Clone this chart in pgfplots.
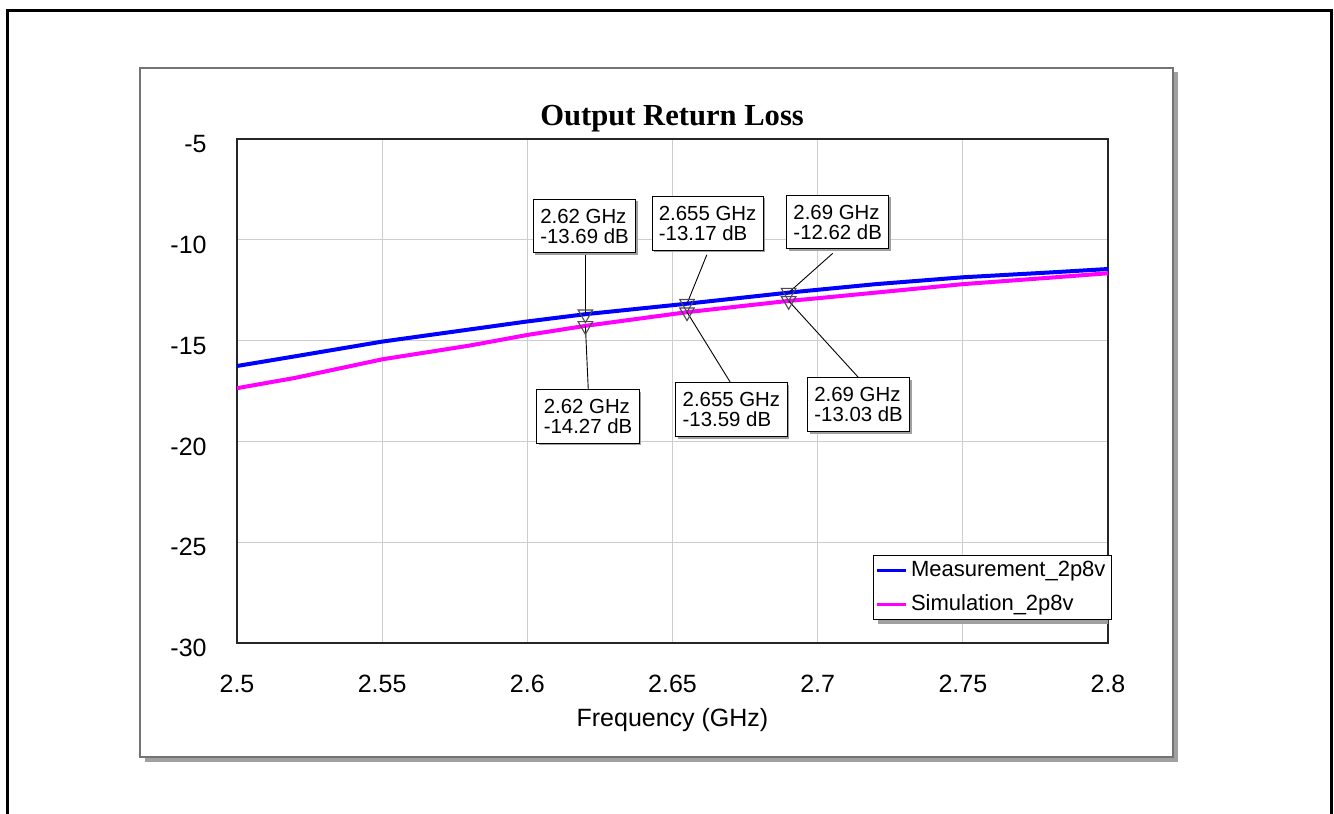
\documentclass[border=0pt]{standalone}
\usepackage{pgfplots}
\pgfplotsset{compat=1.18}
\usepackage{fontspec}
\setmainfont{Liberation Sans}
\newfontfamily\timesfont{Liberation Serif}
\usetikzlibrary{shadows}

\pgfplotstableread{
x y
2.50 -16.26
2.52 -15.78
2.55 -15.05
2.58 -14.45
2.60 -14.05
2.62 -13.69
2.655 -13.17
2.69 -12.62
2.70 -12.48
2.72 -12.20
2.75 -11.86
2.78 -11.62
2.80 -11.45
}\meas

\pgfplotstableread{
x y
2.50 -17.36
2.52 -16.85
2.55 -15.93
2.58 -15.25
2.60 -14.72
2.62 -14.27
2.655 -13.59
2.69 -13.03
2.70 -12.90
2.72 -12.62
2.75 -12.20
2.78 -11.88
2.80 -11.66
}\simu

\definecolor{gridgray}{RGB}{205,205,205}
\definecolor{measblue}{RGB}{0,0,255}
\definecolor{simmag}{RGB}{255,0,255}
\definecolor{shadowgray}{RGB}{160,160,160}

\tikzset{annot/.style={draw=black, fill=white, align=left, line width=0.5pt,
  font=\fontsize{10.2}{10}\selectfont, inner xsep=3.4pt, inner ysep=4.8pt,
  drop shadow={shadow xshift=1pt, shadow yshift=-1pt, fill=shadowgray, opacity=1}}}

\begin{document}
\begin{tikzpicture}
\useasboundingbox (0pt,0pt) rectangle (667pt,407pt);
% outer frame (open at the bottom)
\draw[line width=1.5pt] (3.5pt,-5pt) -- (3.5pt,401.85pt) -- (665.9pt,401.85pt) -- (665.9pt,-5pt);
% panel with shadow
\fill[shadowgray] (72.4pt,26.2pt) rectangle (588.8pt,370.8pt);
\draw[draw=black!55, fill=white, line width=0.7pt] (70pt,28.5pt) rectangle (586.5pt,373pt);
\begin{axis}[
  at={(118.5pt,85.5pt)}, anchor=south west, scale only axis,
  width=435.5pt, height=252pt,
  xmin=2.5, xmax=2.8, ymin=-30, ymax=-5,
  xtick={2.5,2.55,2.6,2.65,2.7,2.75,2.8},
  xticklabels={2.5,2.55,2.6,2.65,2.7,2.75,2.8},
  ytick={-30,-25,-20,-15,-10,-5},
  yticklabels={-30,-25,-20,-15,-10,-5},
  major tick length=0pt,
  grid=major,
  major grid style={gridgray, line width=0.6pt},
  axis line style={black!85, line width=0.6pt},
  tick label style={font=\fontsize{12.5}{14}\selectfont},
  xticklabel style={inner sep=0pt, anchor=north, yshift=-16pt},
  yticklabel style={inner sep=0pt, anchor=east, xshift=-15pt, yshift=-2.5pt},
  xlabel={Frequency (GHz)},
  xlabel style={at={(axis description cs:0.5,-0.153)}, anchor=center, font=\fontsize{12.5}{14}\selectfont},
  title={Output Return Loss},
  title style={at={(axis description cs:0.4995,1)}, anchor=center, yshift=4pt,
    font=\timesfont\bfseries\fontsize{15.3}{18}\selectfont},
  legend style={at={(axis description cs:1.0046,0.0456)}, anchor=south east,
    draw=black, fill=white, line width=0.5pt, inner sep=1pt,
    font=\fontsize{11}{13}\selectfont, row sep=3.5pt,
    nodes={inner sep=2pt}},
  legend cell align=left,
  legend image code/.code={\draw[#1, line width=1.5pt] (0pt,0pt) -- (14.5pt,0pt);},
]
% legend shadow
\fill[shadowgray] (axis description cs:0.7359,0.0377) rectangle (axis description cs:1.0092,0.1746);

\addplot[measblue, line width=2pt] table[x=x,y=y] {\meas};
\addlegendentry{Measurement\_2p8v}
\addplot[simmag, line width=2pt] table[x=x,y=y] {\simu};
\addlegendentry{Simulation\_2p8v}

% leader lines
\draw[black, line width=0.45pt] (axis cs:2.6200,-10.64) -- (axis cs:2.62,-13.69);
\draw[black, line width=0.45pt] (axis cs:2.6618,-10.75) -- (axis cs:2.655,-13.17);
\draw[black, line width=0.45pt] (axis cs:2.7052,-10.67) -- (axis cs:2.69,-12.62);
\draw[black, line width=0.45pt] (axis cs:2.6210,-17.45) -- (axis cs:2.62,-14.27);
\draw[black, line width=0.45pt] (axis cs:2.6700,-17.09) -- (axis cs:2.655,-13.59);
\draw[black, line width=0.45pt] (axis cs:2.7143,-16.87) -- (axis cs:2.69,-13.03);

% markers
\addplot[only marks, forget plot, mark=triangle, mark size=4.2pt,
  mark options={rotate=180, draw=black!70, fill=none, line width=0.55pt}]
  coordinates {(2.62,-13.69) (2.655,-13.17) (2.69,-12.62)
               (2.62,-14.27) (2.655,-13.59) (2.69,-13.03)};

% annotation boxes
\node[annot] at (axis cs:2.6197,-9.315) {2.62 GHz\\-13.69 dB};
\node[annot] at (axis cs:2.6621,-9.18) {2.655 GHz\\-13.17 dB};
\node[annot] at (axis cs:2.7069,-9.117) {2.69 GHz\\-12.62 dB};
\node[annot] at (axis cs:2.6209,-18.765) {2.62 GHz\\-14.27 dB};
\node[annot] at (axis cs:2.6703,-18.433) {2.655 GHz\\-13.59 dB};
\node[annot] at (axis cs:2.7141,-18.185) {2.69 GHz\\-13.03 dB};
\end{axis}
\end{tikzpicture}
\end{document}
